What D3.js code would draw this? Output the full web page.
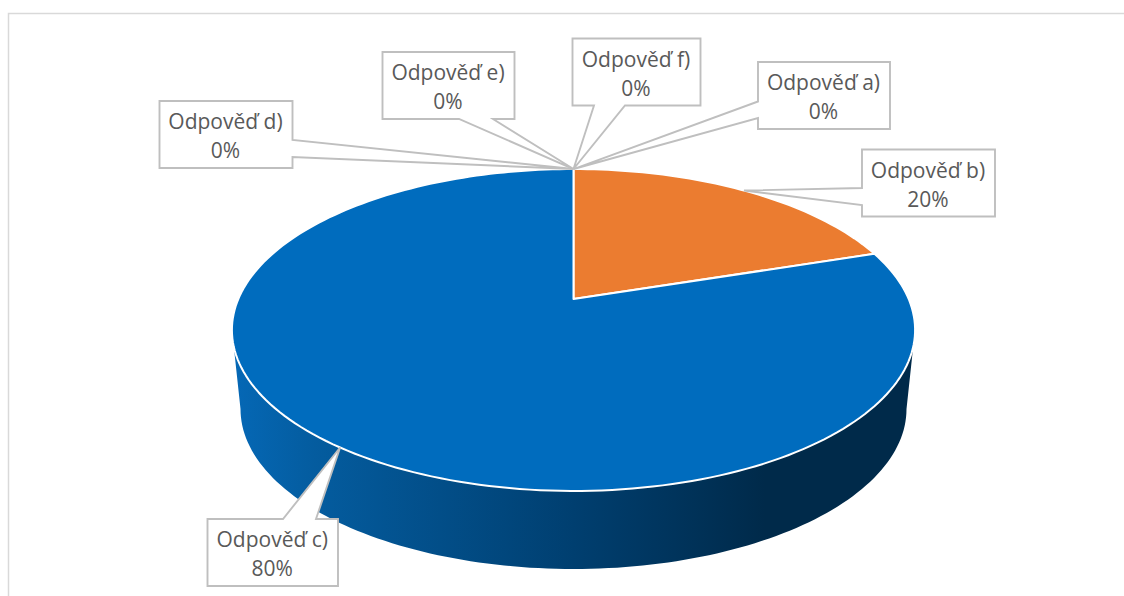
<!DOCTYPE html>
<html><head><meta charset="utf-8">
<style>html,body{margin:0;padding:0;background:#fff}svg{display:block}</style>
<script src="https://cdn.jsdelivr.net/npm/d3@7"></script></head>
<body><svg id="c" width="1124" height="596"></svg>
<script>
const categories = ["Odpověď a)","Odpověď b)","Odpověď c)","Odpověď d)","Odpověď e)","Odpověď f)"];
const values = [0,20,80,0,0,0];
const sliceColors = ["#4472c4","#eb7c30","#006cbe","#a5a5a5","#ffc000","#5b9bd5"];
// label box layout: left, top, width, height, callout attach points
const labelBoxes = [
 {x:758,y:62,w:132,h:67,side:"left",a:101.5,b:118},
 {x:862,y:149.5,w:133,h:67,side:"left",a:188,b:205},
 {x:207.5,y:519,w:130.5,h:67,side:"top",a:283,b:316},
 {x:159.5,y:101,w:133,h:67,side:"right",a:140,b:157},
 {x:382.5,y:52,w:132,h:67,side:"bottom",a:459,b:493},
 {x:572.5,y:38.5,w:128,h:67,side:"bottom",a:594,b:625}
];
const svg = d3.select("#c");
// projection of the pie's unit circle onto the tilted view
const cx=573.5, apexY=299, k=0.1925, A=335.2, B=155;
const proj = t => { const u=Math.sin(t), v=Math.cos(t), d=1+k*v; return [cx+A*u/d, apexY-B*v/d]; };
const arcs = d3.pie().sort(null).value(d=>d)(values);
const sample = (t0,t1) => d3.range(0,1.0001,1/Math.max(2,Math.ceil((t1-t0)*40))).map(f=>proj(t0+(t1-t0)*f));
const line = d3.line();

svg.append("rect").attr("x",8.5).attr("y",13.5).attr("width",1200).attr("height",700)
  .attr("fill","#fff").attr("stroke","#d9d9d9").attr("stroke-width",1.5);

const grad = svg.append("defs").append("linearGradient").attr("id","wall")
  .attr("gradientUnits","userSpaceOnUse").attr("x1",232).attr("x2",915).attr("y1",0).attr("y2",0);
[[0,"#0568b6"],[0.12,"#045c9f"],[0.5,"#003f70"],[0.78,"#002a4a"],[1,"#002a4a"]]
  .forEach(s=>grad.append("stop").attr("offset",s[0]).attr("stop-color",s[1]));

// side wall: top ellipse silhouette down to a narrower lower ellipse
const topRx=341.5, topCy=330, botRx=333, botRy=160, botCy=409;
const wallArc = d3.range(Math.PI,-0.0001,-Math.PI/120).map(t=>[cx+botRx*Math.cos(t),botCy+botRy*Math.sin(t)]);
const wallPts = [[cx-topRx,topCy],...wallArc,[cx+topRx,topCy]];
svg.append("path").attr("d",line(wallPts)+"Z").attr("fill","url(#wall)");

// top surface slices
const nz = arcs.filter(a=>a.endAngle>a.startAngle);
svg.selectAll("path.slice").data(nz).join("path").attr("class","slice")
  .attr("d",a=>line([[cx,apexY],...sample(a.startAngle,a.endAngle)])+"Z")
  .attr("fill",a=>sliceColors[a.index])
  .attr("stroke","#fff").attr("stroke-width",2).attr("stroke-linejoin","round");

// callouts
const boxGroup = svg.append("g");
arcs.forEach((a,i)=>{
  const tip = proj((a.startAngle+a.endAngle)/2);
  const b = labelBoxes[i];
  const r=b.x+b.w, bt=b.y+b.h;
  let pts;
  if(b.side==="left") pts=[[b.x,b.y],[r,b.y],[r,bt],[b.x,bt],[b.x,b.b],tip,[b.x,b.a]];
  if(b.side==="right") pts=[[b.x,b.y],[r,b.y],[r,b.a],tip,[r,b.b],[r,bt],[b.x,bt]];
  if(b.side==="bottom") pts=[[b.x,b.y],[r,b.y],[r,bt],[b.b,bt],tip,[b.a,bt],[b.x,bt]];
  if(b.side==="top") pts=[[b.x,b.y],[b.a,b.y],tip,[b.b,b.y],[r,b.y],[r,bt],[b.x,bt]];
  const g = boxGroup.append("g");
  g.append("path").attr("d",line(pts)+"Z").attr("fill","#fff").attr("stroke","#bfbfbf").attr("stroke-width",1.9).attr("stroke-linejoin","miter");
  const t = g.append("text").attr("text-anchor","middle").attr("font-family","'Open Sans',sans-serif").attr("font-size",21).attr("fill","#595959");
  t.append("tspan").attr("x",b.x+b.w/2-0.5).attr("y",b.y+28).text(categories[i]);
  t.append("tspan").attr("x",b.x+b.w/2-0.5).attr("y",b.y+57).text(values[i]+"%");
});
</script></body></html>
